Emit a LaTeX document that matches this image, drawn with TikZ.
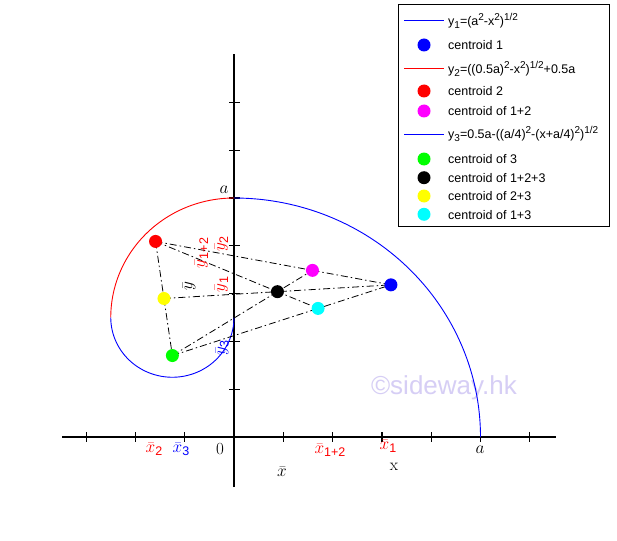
\documentclass[tikz,border=0pt]{standalone}
\usepackage{fontspec}
\newfontfamily\arial{Liberation Sans}
\definecolor{cblue}{RGB}{0,0,255}
\definecolor{cred}{RGB}{255,0,0}
\definecolor{cmag}{RGB}{255,0,255}
\definecolor{cgreen}{RGB}{0,255,0}
\definecolor{cyel}{RGB}{255,255,0}
\definecolor{ccyan}{RGB}{0,255,255}
\definecolor{wmark}{RGB}{214,206,245}
\newcommand\Sup[1]{\raisebox{5pt}{\fontsize{10}{10}\selectfont#1}}
\newcommand\Sub[1]{\raisebox{-3pt}{\fontsize{10}{10}\selectfont#1}}
\newcommand\xb[1]{$\bar{x}$\raisebox{-3.5pt}{\arial\fontsize{12.5}{12.5}\selectfont #1}}
\newcommand\yb[1]{$\bar{y}$\raisebox{-3.5pt}{\arial\fontsize{12.5}{12.5}\selectfont #1}}
\begin{document}
\begin{tikzpicture}[x=1pt,y=-1pt,
  ax/.style={line width=1.2pt,black},
  tk/.style={line width=1.2pt,black},
  cv/.style={line width=0.9pt},
  dd/.style={line width=0.8pt,black,dash pattern=on 7pt off 3pt on 1.5pt off 3pt},
  dot/.style={circle,inner sep=0pt,minimum size=13pt},
  lbl/.style={inner sep=0pt,font=\fontsize{17}{19}\selectfont},
  leg/.style={anchor=base west,inner sep=0pt,font=\arial\fontsize{12.5}{14}\selectfont}]
\useasboundingbox (0,0) rectangle (617,540);
\fill[white] (0,0) rectangle (617,540);
% watermark
\node[text=wmark,inner sep=0pt,font=\arial\fontsize{26}{28}\selectfont] (wm) at (444,388) {©sideway.hk};
% axes
\coordinate (xl) at (62,437); \coordinate (xr) at (556,437);
\coordinate (yt) at (234,54); \coordinate (yb) at (234,487);
\draw[ax] (xl) -- (xr);
\draw[ax] (yb) -- (yt);
\foreach \k in {-3,-2,-1,1,2,3,4,5,6} \draw[tk] ({234+49.3*\k},432) -- ++(0,10);
\foreach \k in {1,...,7} \draw[tk] (229,{437-47.8*\k}) -- ++(11,0);
% curves and centroids
\begin{scope}[shift={(234pt,-437pt)},x=49.3pt,y=47.8pt]
\draw[cblue,cv] plot[domain=0:90,samples=90] ({5*cos(\x)},{5*sin(\x)});
\draw[cred,cv] plot[domain=90:180,samples=60] ({2.5*cos(\x)},{2.5+2.5*sin(\x)});
\draw[cblue,cv] plot[domain=180:360,samples=60] ({-1.25+1.25*cos(\x)},{2.5+1.25*sin(\x)});
\coordinate (p1) at (3.183,3.183);
\coordinate (p2) at (-1.5915,4.0915);
\coordinate (p3) at (-1.25,1.7042);
\coordinate (p12) at (1.5915,3.4859);
\coordinate (p123) at (0.8812,3.0404);
\coordinate (p23) at (-1.4208,2.8978);
\coordinate (p13) at (1.7054,2.690);
\draw[dd] (p2) -- (p1);
\draw[dd] (p3) -- (p1);
\draw[dd] (p2) -- (p3);
\draw[dd] (p2) -- (p13);
\draw[dd] (p23) -- (p1);
\draw[dd] (p3) -- (p12);
\node[dot,fill=cblue] (c1) at (p1) {};
\node[dot,fill=cred] (c2) at (p2) {};
\node[dot,fill=cgreen] (c3) at (p3) {};
\node[dot,fill=cmag] (c12) at (p12) {};
\node[dot,fill=black] (c123) at (p123) {};
\node[dot,fill=cyel] (c23) at (p23) {};
\node[dot,fill=ccyan] (c13) at (p13) {};
\end{scope}
% axis labels
\node[lbl,text=cred] (lx2) at (154,449) {\xb{2}};
\node[lbl,text=cblue] (lx3) at (181,449) {\xb{3}};
\node[lbl] (l0) at (220,449) {0};
\node[lbl,text=cred] (lx12) at (330,450) {\xb{1+2}};
\node[lbl,text=cred] (lx1) at (388,446) {\xb{1}};
\node[lbl] (lx) at (394,467) {x};
\node[lbl] (la) at (480,450) {$a$};
\node[lbl] (lxb) at (282,472) {$\bar{x}$};
\node[lbl] (la2) at (224,190) {$a$};
\node[lbl,text=cred,rotate=90] (ly2) at (221.5,244) {\yb{2}};
\node[lbl,text=cred,rotate=90] (ly12) at (201.5,253) {\yb{1+2}};
\node[lbl,text=cred,rotate=90] (ly1) at (221.5,284.5) {\yb{1}};
\node[lbl,rotate=90] (lyb) at (189,286) {$\bar{y}$};
\node[lbl,text=cblue,rotate=90] (ly3) at (222,348) {\yb{3}};
% legend
\node[draw,line width=0.8pt,anchor=north west,inner sep=0pt,minimum width=211pt,minimum height=222pt] (box) at (397.5,4) {};
\coordinate (l1a) at (404,20.7); \coordinate (l1b) at (444,20.7);
\coordinate (l3a) at (404,68.3); \coordinate (l3b) at (444,68.3);
\coordinate (l6a) at (404,134); \coordinate (l6b) at (444,134);
\draw[cblue,cv] (l1a) -- (l1b);
\draw[cred,cv] (l3a) -- (l3b);
\draw[cblue,cv] (l6a) -- (l6b);
\node[dot,fill=cblue] (d1) at (424,45) {};
\node[dot,fill=cred] (d2) at (424,91) {};
\node[dot,fill=cmag] (d12) at (424,111) {};
\node[dot,fill=cgreen] (d3) at (424,159) {};
\node[dot,fill=black] (d123) at (424,177.7) {};
\node[dot,fill=cyel] (d23) at (424,196) {};
\node[dot,fill=ccyan] (d13) at (424,214.3) {};
\node[leg] (t1) at (448,25.5) {y\Sub{1}=(a\Sup{2}-x\Sup{2})\Sup{1/2}};
\node[leg] (t2) at (448,49.8) {centroid 1};
\node[leg] (t3) at (448,73.1) {y\Sub{2}=((0.5a)\Sup{2}-x\Sup{2})\Sup{1/2}+0.5a};
\node[leg] (t4) at (448,95.8) {centroid 2};
\node[leg] (t5) at (448,115.8) {centroid of 1+2};
\node[leg] (t6) at (448,138.8) {y\Sub{3}=0.5a-((a/4)\Sup{2}-(x+a/4)\Sup{2})\Sup{1/2}};
\node[leg] (t7) at (448,163.8) {centroid of 3};
\node[leg] (t8) at (448,182.5) {centroid of 1+2+3};
\node[leg] (t9) at (448,200.8) {centroid of 2+3};
\node[leg] (t10) at (448,219.1) {centroid of 1+3};
\end{tikzpicture}
\end{document}
